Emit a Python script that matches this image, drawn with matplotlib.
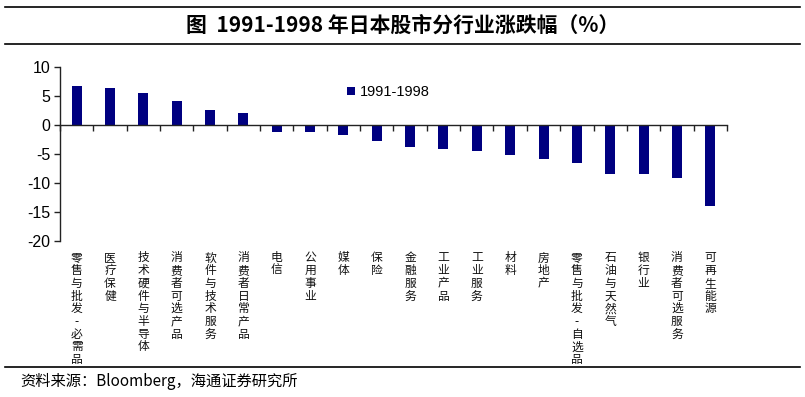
import matplotlib.pyplot as plt
import numpy as np

plt.rcParams['font.family'] = ['Liberation Sans', 'Noto Sans CJK SC', 'DejaVu Sans']

sectors = ['零售与批发-必需品', '医疗保健', '技术硬件与半导体', '消费者可选产品', '软件与技术服务',
           '消费者日常产品', '电信', '公用事业', '媒体', '保险', '金融服务', '工业产品', '工业服务',
           '材料', '房地产', '零售与批发-自选品', '石油与天然气', '银行业', '消费者可选服务', '可再生能源']
change = [6.7, 6.45, 5.6, 4.2, 2.6, 2.05, -1.15, -1.15, -1.8, -2.8, -3.75, -4.1, -4.45, -5.2,
          -5.85, -6.6, -8.4, -8.5, -9.1, -14.0]
series_name = '1991-1998'
yticks = [10, 5, 0, -5, -10, -15, -20]

fig = plt.figure(figsize=(8.05, 3.97), dpi=100)
ax = fig.add_axes([0.0745, 0.3937, 0.8285, 0.4368])

x = np.arange(len(sectors))
ax.bar(x, change, width=0.3, color='#000080', label=series_name, zorder=2)

ax.set_xlim(-0.5, len(sectors) - 0.5)
ax.set_ylim(-20, 10)
ax.set_yticks(yticks)
ax.set_yticklabels([str(v) for v in yticks], fontsize=11.5)
ax.set_xticks(np.arange(len(sectors) + 1) - 0.5)
ax.set_xticklabels([])
ax.tick_params(axis='x', direction='out', length=4, width=1, color='#222222')
ax.tick_params(axis='y', direction='out', length=4, width=1, color='#222222', pad=3)

for s in ['top', 'right']:
    ax.spines[s].set_visible(False)
ax.spines['bottom'].set_position(('data', 0))
ax.spines['bottom'].set_zorder(3)
for s in ['left', 'bottom']:
    ax.spines[s].set_color('#222222')
    ax.spines[s].set_linewidth(1)

# vertical category labels under the plot
for i, name in enumerate(sectors):
    ax.text(i, -0.062, '\n'.join(name), transform=ax.get_xaxis_transform(),
            ha='center', va='top', fontsize=8.5, linespacing=0.97,
            family=['Noto Sans CJK SC', 'DejaVu Sans'], color='#111111')

ax.legend(loc='upper left', bbox_to_anchor=(0.422, 0.93), frameon=False, fontsize=10.5,
          handlelength=0.55, handleheight=0.55, handletextpad=0.3, borderaxespad=0)

# title and rules
fig.text(0.5, 0.937, '图  1991-1998 年日本股市分行业涨跌幅（%）', ha='center', va='center',
         fontsize=15, fontweight='bold', family=['Noto Sans CJK SC', 'DejaVu Sans'])
fig.add_artist(plt.Line2D([0.006, 0.994], [0.982, 0.982], color='black', lw=1.2))
fig.add_artist(plt.Line2D([0.006, 0.994], [0.889, 0.889], color='black', lw=1.2))
fig.add_artist(plt.Line2D([0.006, 0.994], [0.076, 0.076], color='black', lw=1.2))
fig.text(0.025, 0.038, '资料来源：Bloomberg，海通证券研究所', ha='left', va='center', fontsize=11,
         family=['Noto Sans CJK SC', 'DejaVu Sans'])

fig.savefig('out.png', dpi=100)
